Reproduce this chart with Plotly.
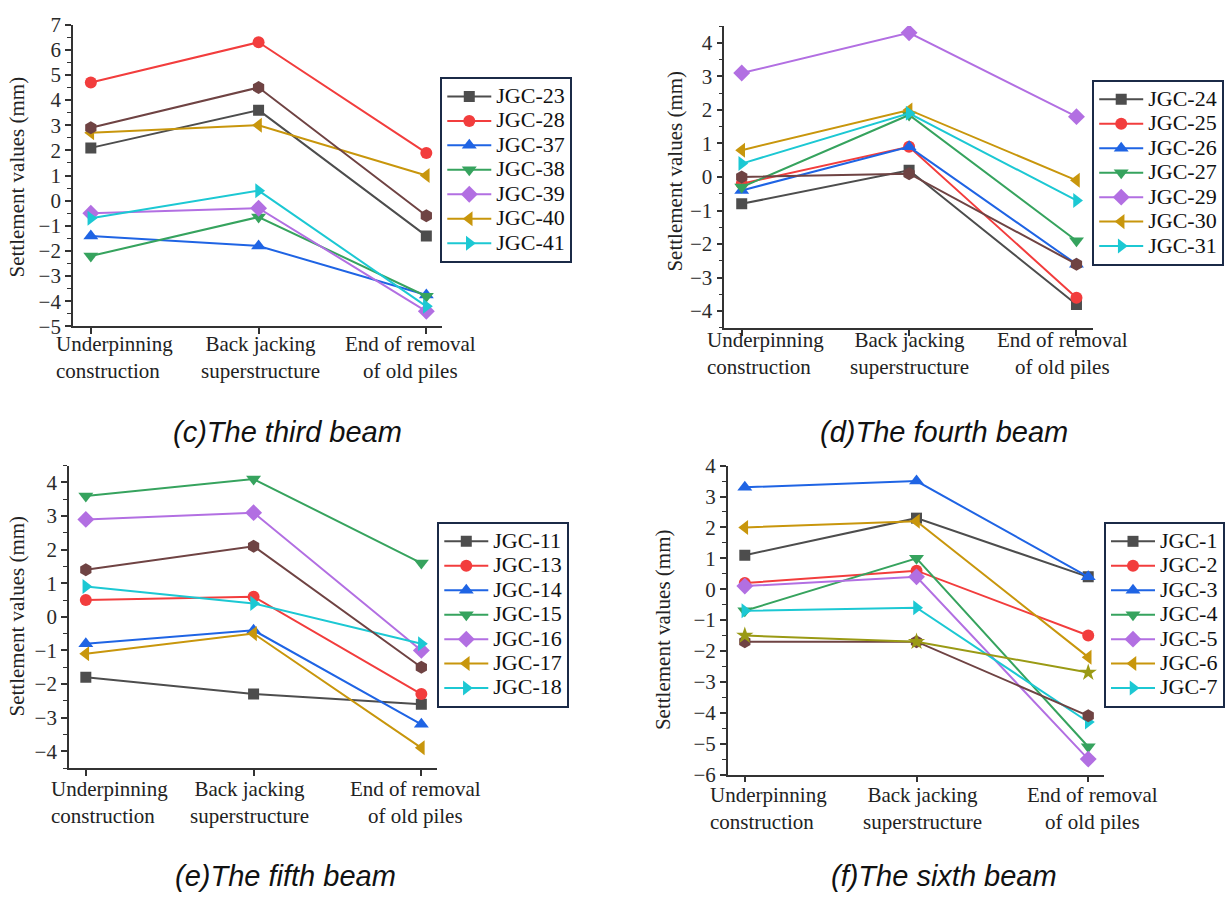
import plotly.graph_objects as go

W, H = 1225, 905

stages = ["Underpinning construction", "Back jacking superstructure", "End of removal of old piles"]
stage_labels = ["Underpinning<br>construction", "Back jacking<br>superstructure", "End of removal<br>of old piles"]

# (c) The third beam
c_names = ["JGC-23", "JGC-28", "JGC-37", "JGC-38", "JGC-39", "JGC-40", "JGC-41"]
c_values = [[2.1, 3.6, -1.4], [4.7, 6.3, 1.9], [-1.4, -1.8, -3.75], [-2.2, -0.65, -3.8],
            [-0.5, -0.3, -4.4], [2.7, 3.0, 1.0], [-0.7, 0.4, -4.2]]
c_unlabeled = [[2.9, 4.5, -0.6]]

# (d) The fourth beam
d_names = ["JGC-24", "JGC-25", "JGC-26", "JGC-27", "JGC-29", "JGC-30", "JGC-31"]
d_values = [[-0.8, 0.2, -3.8], [-0.2, 0.9, -3.6], [-0.4, 0.9, -2.6], [-0.3, 1.85, -1.9],
            [3.1, 4.3, 1.8], [0.8, 2.0, -0.1], [0.4, 1.9, -0.7]]
d_unlabeled = [[0.0, 0.1, -2.6]]

# (e) The fifth beam
e_names = ["JGC-11", "JGC-13", "JGC-14", "JGC-15", "JGC-16", "JGC-17", "JGC-18"]
e_values = [[-1.8, -2.3, -2.6], [0.5, 0.6, -2.3], [-0.8, -0.4, -3.2], [3.6, 4.1, 1.6],
            [2.9, 3.1, -1.0], [-1.1, -0.5, -3.9], [0.9, 0.4, -0.8]]
e_unlabeled = [[1.4, 2.1, -1.5]]

# (f) The sixth beam
f_names = ["JGC-1", "JGC-2", "JGC-3", "JGC-4", "JGC-5", "JGC-6", "JGC-7"]
f_values = [[1.1, 2.3, 0.4], [0.2, 0.6, -1.5], [3.3, 3.5, 0.4], [-0.7, 1.0, -5.1],
            [0.1, 0.4, -5.5], [2.0, 2.2, -2.2], [-0.7, -0.6, -4.3]]
f_unlabeled = [[-1.7, -1.7, -4.1], [-1.5, -1.7, -2.7]]

titles = ["(c)The third beam", "(d)The fourth beam", "(e)The fifth beam", "(f)The sixth beam"]
y_title = "Settlement values (mm)"

colors = ["#4d4d4d", "#f23d3d", "#1f64e4", "#36a35e", "#b26fe2", "#c8960c", "#1cc8d3"]
symbols = ["square", "circle", "triangle-up", "triangle-down", "diamond", "triangle-left", "triangle-right"]
sizes = [11, 12, 13, 13, 13, 13, 13]
extra_colors = ["#6f4343", "#9a9a14"]
extra_symbols = ["hexagon", "star"]

SERIF = "Liberation Serif"
SANS = "Liberation Sans"
AX = "#333333"

panels = [
    dict(names=c_names, values=c_values, extra=c_unlabeled, px=(73, 443), py=(13, 323), yr=[-5, 7],
         xr=[-0.107, 2.095], leg=(441, 67), ytitle=(17, 169), cap=(287.5, 431), lab_y=354.5,
         shifts=(-37, 2, -16)),
    dict(names=d_names, values=d_values, extra=d_unlabeled, px=(725.5, 1095), py=(14.5, 324.5), yr=[-4.5, 4.5],
         xr=[-0.104, 2.1], leg=(1094, 70), ytitle=(676, 163), cap=(946, 431), lab_y=350.5,
         shifts=(-37, 0, -14)),
    dict(names=e_names, values=e_values, extra=e_unlabeled, px=(69, 438), py=(466, 776.6), yr=[-4.5, 4.5],
         xr=[-0.101, 2.095], leg=(438, 524), ytitle=(17, 620), cap=(286, 888), lab_y=812.5,
         shifts=(-37, -4, -6)),
    dict(names=f_names, values=f_values, extra=f_unlabeled, px=(729, 1106), py=(466, 783.3), yr=[-6, 4],
         xr=[-0.099, 2.093], leg=(1106, 524), ytitle=(664, 634), cap=(946, 888), lab_y=818.5,
         shifts=(-37, 6, 4)),
]

fig = go.Figure()
layout = dict(width=W, height=H, margin=dict(l=0, r=0, t=0, b=0, pad=0), paper_bgcolor="white",
              plot_bgcolor="white", showlegend=True, autosize=False)
annotations = []

for i, p in enumerate(panels):
    k = "" if i == 0 else str(i + 1)
    xa, ya = "x" + k, "y" + k
    legname = "legend" + k
    for j, (nm, vals) in enumerate(zip(p["names"], p["values"])):
        fig.add_trace(go.Scatter(
            x=stages, y=vals, name='<span style="font-size:22px">' + nm + '</span>', mode="lines+markers",
            line=dict(color=colors[j], width=2),
            marker=dict(symbol=symbols[j], size=sizes[j], color=colors[j]),
            xaxis=xa, yaxis=ya, legend=legname))
    for j, vals in enumerate(p["extra"]):
        fig.add_trace(go.Scatter(
            x=stages, y=vals, mode="lines+markers", showlegend=False,
            line=dict(color=extra_colors[j], width=2),
            marker=dict(symbol=extra_symbols[j], size=13, color=extra_colors[j]),
            xaxis=xa, yaxis=ya))
    layout["xaxis" + k] = dict(
        domain=[p["px"][0] / W, p["px"][1] / W], anchor=ya, type="category",
        categoryorder="array", categoryarray=stages, range=p["xr"],
        showline=True, linecolor=AX, linewidth=1.5, ticks="outside", ticklen=6, tickwidth=1.5,
        tickcolor=AX, showticklabels=False, showgrid=False, zeroline=False)
    layout["yaxis" + k] = dict(
        domain=[1 - p["py"][1] / H, 1 - p["py"][0] / H], anchor=xa, range=p["yr"], dtick=1,
        showline=True, linecolor=AX, linewidth=1.5, ticks="outside", ticklen=6, tickwidth=1.5,
        tickcolor=AX, tickfont=dict(family=SERIF, size=21, color="#2a2a2a"),
        minor=dict(dtick=0.5, ticks="outside", ticklen=4, tickwidth=1.2, tickcolor=AX),
        showgrid=False, zeroline=False)
    layout[legname] = dict(
        x=p["leg"][0] / W, y=1 - p["leg"][1] / H, xanchor="left", yanchor="top",
        bgcolor="white", bordercolor="#1b2a47", borderwidth=2, tracegroupgap=0,
        font=dict(family=SERIF, size=16.5, color="#111"), itemwidth=44)
    aligns = ["left", "center", "center"]
    for j, (st, lab) in enumerate(zip(stages, stage_labels)):
        annotations.append(dict(
            x=st, xref=xa, y=1 - p["lab_y"] / H, yref="paper", text=lab, showarrow=False,
            xanchor="left" if j == 0 else "center", yanchor="middle", align=aligns[j],
            xshift=p["shifts"][j], font=dict(family=SERIF, size=21, color="#222")))
    annotations.append(dict(
        x=p["ytitle"][0] / W, y=1 - p["ytitle"][1] / H, xref="paper", yref="paper",
        text=y_title, textangle=-90, showarrow=False, xanchor="center", yanchor="middle",
        font=dict(family=SERIF, size=21, color="#222")))
    annotations.append(dict(
        x=p["cap"][0] / W, y=1 - p["cap"][1] / H, xref="paper", yref="paper",
        text="<i>" + titles[i] + "</i>", showarrow=False, xanchor="center", yanchor="middle",
        font=dict(family=SANS, size=29, color="#111")))

layout["annotations"] = annotations
fig.update_layout(**layout)
fig.write_html("out.html")
